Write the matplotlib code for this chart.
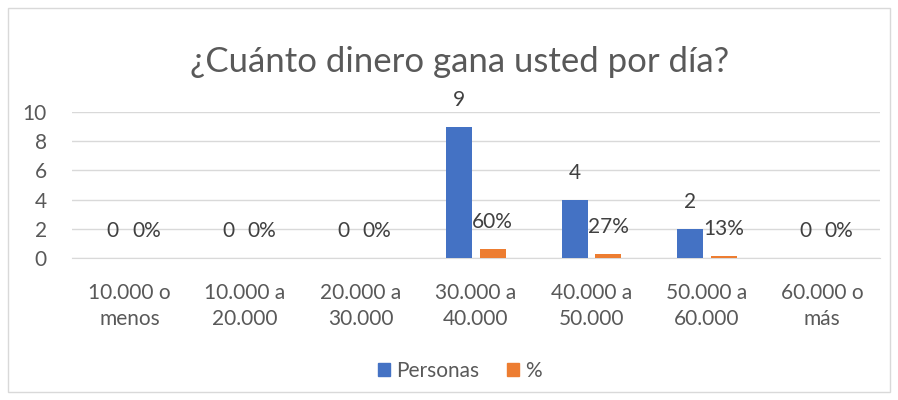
import matplotlib

matplotlib.use("Agg")

import matplotlib.pyplot as plt
import numpy as np
from matplotlib.patches import Patch, Rectangle

CATEGORIES = [
    "10.000 o\nmenos",
    "10.000 a\n20.000",
    "20.000 a\n30.000",
    "30.000 a\n40.000",
    "40.000 a\n50.000",
    "50.000 a\n60.000",
    "60.000 o\nmás",
]
PERSONAS = [0, 0, 0, 9, 4, 2, 0]
PORCENTAJE = [0.0, 0.0, 0.0, 0.60, 0.27, 0.13, 0.0]
PCT_LABELS = ["0%", "0%", "0%", "60%", "27%", "13%", "0%"]

BLUE = "#4472C4"
ORANGE = "#ED7D31"
GRID = "#d9d9d9"
TEXT = "#595959"
FS = 15

plt.rcParams["font.family"] = ["Lato", "DejaVu Sans"]

fig = plt.figure(figsize=(8.98, 4.0), dpi=100)
fig.patches.append(Rectangle((0.009, 0.02), 0.982, 0.96, transform=fig.transFigure,
                             fill=False, edgecolor=GRID, lw=1.0))
ax = fig.add_axes([0.080, 0.355, 0.900, 0.365])

x = np.arange(len(CATEGORIES))
w = 0.225
off = 0.145
ax.bar(x - off, PERSONAS, w, color=BLUE, zorder=3)
ax.bar(x + off, PORCENTAJE, w, color=ORANGE, zorder=3)

for xi, v in zip(x, PERSONAS):
    ax.annotate(str(v), (xi - off, v), xytext=(0, 27), textcoords="offset pixels",
                ha="center", va="center", fontsize=FS, color="#404040")
for xi, v, lab in zip(x, PORCENTAJE, PCT_LABELS):
    ax.annotate(lab, (xi + off, v), xytext=(0, 27), textcoords="offset pixels",
                ha="center", va="center", fontsize=FS, color="#404040")

ax.set_xlim(-0.5, len(CATEGORIES) - 0.5)
ax.set_ylim(0, 10)
ax.set_yticks(range(0, 11, 2))
ax.set_xticks(x)
ax.set_xticklabels(CATEGORIES, fontsize=FS, color=TEXT, linespacing=1.35)
ax.tick_params(axis="y", labelsize=FS, labelcolor=TEXT, length=0, pad=18)
ax.tick_params(axis="x", length=0, pad=18)
ax.grid(axis="y", color=GRID, lw=1.0, zorder=0)
for s in ["top", "right", "left"]:
    ax.spines[s].set_visible(False)
ax.spines["bottom"].set_color(GRID)

fig.text(0.512, 0.845, "¿Cuánto dinero gana usted por día?", ha="center", va="center",
         fontsize=25, color=TEXT)

handles = [Patch(color=BLUE, label="Personas"), Patch(color=ORANGE, label="%")]
fig.legend(handles=handles, loc="center", bbox_to_anchor=(0.512, 0.072), ncol=2,
           frameon=False, fontsize=FS, handlelength=0.6, handleheight=0.6,
           handletextpad=0.3, columnspacing=1.3, labelcolor=TEXT)

fig.savefig("out.png", dpi=100)
